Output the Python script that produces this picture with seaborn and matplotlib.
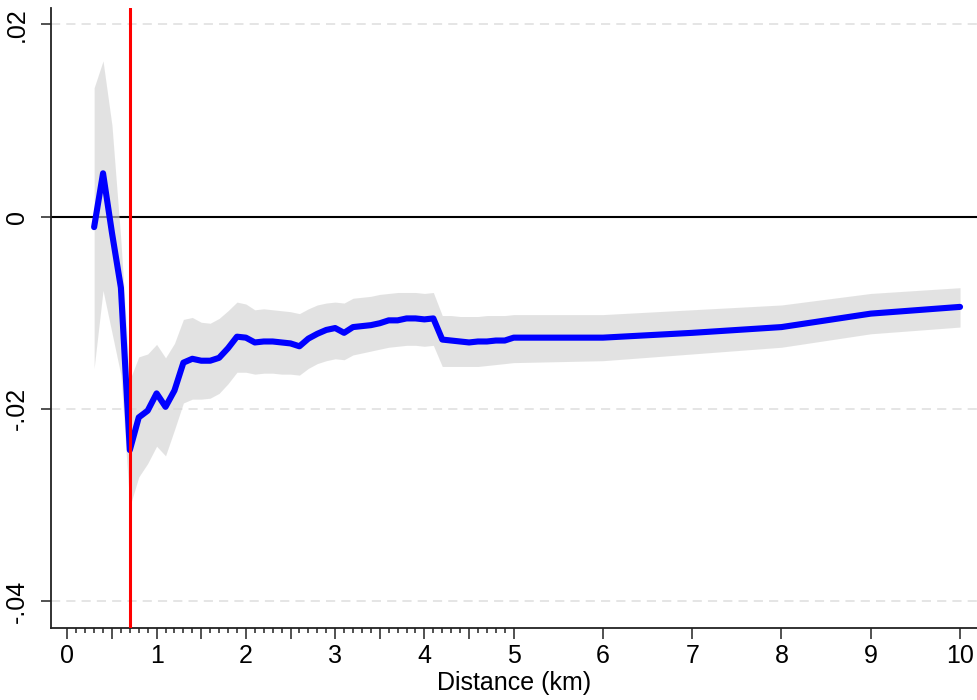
import numpy as np
import pandas as pd
import matplotlib
matplotlib.use('Agg')
import matplotlib.pyplot as plt
import seaborn as sns

# distance bins (km) and estimated coefficients with confidence band
dist = [0.3, 0.4, 0.5, 0.6, 0.7, 0.8, 0.9, 1.0, 1.1, 1.2,
        1.3, 1.4, 1.5, 1.6, 1.7, 1.8, 1.9, 2.0, 2.1, 2.2,
        2.3, 2.4, 2.5, 2.6, 2.7, 2.8, 2.9, 3.0, 3.1, 3.2,
        3.3, 3.4, 3.5, 3.6, 3.7, 3.8, 3.9, 4.0, 4.1, 4.2,
        4.3, 4.4, 4.5, 4.6, 4.7, 4.8, 4.9, 5.0,
        6, 7, 8, 9, 10]

coef = [-0.0011, 0.0045, -0.0017, -0.0074, -0.0243, -0.0209, -0.0202, -0.0184, -0.0198, -0.0181,
        -0.0152, -0.0148, -0.0150, -0.0150, -0.0147, -0.0137, -0.0125, -0.0126, -0.0131, -0.0130,
        -0.0130, -0.0131, -0.0132, -0.0135, -0.0127, -0.0122, -0.0118, -0.0116, -0.0121, -0.0115,
        -0.0114, -0.0113, -0.0111, -0.0108, -0.0108, -0.0106, -0.0106, -0.0107, -0.0106, -0.0128,
        -0.0129, -0.0130, -0.0131, -0.0130, -0.0130, -0.0129, -0.0129, -0.0126,
        -0.0126, -0.0121, -0.0115, -0.0101, -0.0094]

ci_hi = [0.0134, 0.0162, 0.0095, -0.0025, -0.0170, -0.0146, -0.0143, -0.0133, -0.0147, -0.0132,
         -0.0107, -0.0105, -0.0110, -0.0111, -0.0106, -0.0098, -0.0089, -0.0091, -0.0097, -0.0096,
         -0.0097, -0.0098, -0.0099, -0.0101, -0.0096, -0.0092, -0.0090, -0.0089, -0.0090, -0.0085,
         -0.0084, -0.0083, -0.0081, -0.0080, -0.0079, -0.0079, -0.0079, -0.0080, -0.0079, -0.0103,
         -0.0103, -0.0104, -0.0104, -0.0104, -0.0103, -0.0103, -0.0103, -0.0102,
         -0.0102, -0.0097, -0.0092, -0.0080, -0.0074]

ci_lo = [-0.0158, -0.0077, -0.0121, -0.0165, -0.0302, -0.0271, -0.0257, -0.0239, -0.0249, -0.0222,
         -0.0194, -0.0190, -0.0190, -0.0189, -0.0184, -0.0174, -0.0162, -0.0162, -0.0164, -0.0163,
         -0.0163, -0.0164, -0.0164, -0.0165, -0.0158, -0.0153, -0.0150, -0.0148, -0.0149, -0.0144,
         -0.0142, -0.0140, -0.0138, -0.0136, -0.0135, -0.0134, -0.0134, -0.0135, -0.0134, -0.0156,
         -0.0156, -0.0156, -0.0156, -0.0156, -0.0155, -0.0154, -0.0153, -0.0152,
         -0.0150, -0.0143, -0.0136, -0.0122, -0.0115]

cutoff = 0.7
ytick_vals = [0.02, 0, -0.02, -0.04]
ytick_labels = ['.02', '0', '-.02', '-.04']

df = pd.DataFrame({'dist': dist, 'coef': coef, 'lo': ci_lo, 'hi': ci_hi})

sns.set_style('ticks')
plt.rcParams['font.family'] = ['Liberation Sans', 'DejaVu Sans']

fig = plt.figure(figsize=(9.77, 7.0), dpi=100)
ax = fig.add_axes([51 / 977, 1 - 627.7 / 700, 926 / 977, 619.7 / 700])

# confidence band, zero line, estimate line, cutoff line
ax.axhline(0, color='black', lw=1.5, zorder=1)
ax.fill_between(df['dist'], df['lo'], df['hi'], color='#d3d3d3', alpha=0.64,
                linewidth=0, zorder=2)
sns.lineplot(data=df, x='dist', y='coef', color='#0000ff', lw=4.4, ax=ax, zorder=3)
ax.axvline(cutoff, color='#ff0000', lw=2.2, zorder=4)

ax.set_xlim(-0.183, 10.19)
ax.set_ylim(-0.04278, 0.0217)

# axis ticks
major = list(np.arange(0, 5.01, 0.5)) + [6, 7, 8, 9, 10]
ax.set_xticks(major)
ax.set_xticklabels([str(int(t)) if float(t).is_integer() else '' for t in major])
minor = [t for t in np.round(np.arange(0, 5.0, 0.1), 1) if (t * 10) % 5 != 0]
ax.set_xticks(minor, minor=True)
ax.set_yticks(ytick_vals)
ax.set_yticklabels(ytick_labels, rotation=90, va='center')

ax.tick_params(axis='x', which='major', length=8, width=1.1, colors='#222222',
               labelsize=18, pad=4, labelcolor='black')
ax.tick_params(axis='x', which='minor', length=3.8, width=1.1, colors='#222222')
ax.tick_params(axis='y', length=7, width=1.1, colors='#222222', labelsize=18,
               pad=9, labelcolor='black')

# dashed horizontal gridlines
ax.yaxis.grid(True, color='#dedede', lw=1.1, linestyle=(0, (6, 4)))
ax.set_axisbelow(True)

for side in ['top', 'right']:
    ax.spines[side].set_visible(False)
for side in ['left', 'bottom']:
    ax.spines[side].set_color('#222222')
    ax.spines[side].set_linewidth(1.3)

ax.set_xlabel('Distance (km)', fontsize=18, labelpad=2, color='black')
ax.set_ylabel('')

fig.savefig('out.png', dpi=100)
